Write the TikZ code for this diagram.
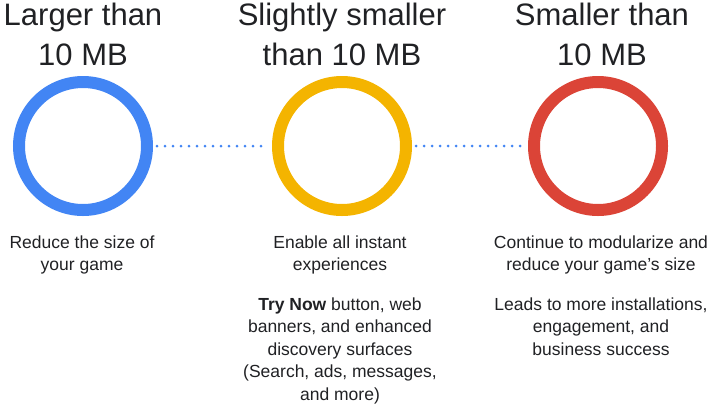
\documentclass[tikz,border=0pt]{standalone}
\usepackage{fontspec}
\setmainfont{Liberation Sans}
\definecolor{gblue}{HTML}{4285F4}
\definecolor{gyellow}{HTML}{F4B400}
\definecolor{gred}{HTML}{DB4437}
\definecolor{gtext}{HTML}{202124}
\begin{document}
\begin{tikzpicture}[x=1pt,y=-1pt,
  ring/.style={circle,minimum size=128pt,line width=12pt,draw=#1},
  title/.style={align=center,font=\fontsize{31}{40}\selectfont,text=gtext,anchor=north},
  body/.style={align=center,font=\fontsize{17.5}{22.5}\selectfont,text=gtext,anchor=north},
  dots/.style={gblue,line width=3pt,line cap=round,dash pattern=on 0pt off 8pt}]
\useasboundingbox (0,0) rectangle (719,408);
\node[ring=gblue] (c1) at (83,146) {};
\node[ring=gyellow] (c2) at (342,146) {};
\node[ring=gred] (c3) at (598,146) {};
\draw[dots] ([xshift=4pt]c1.east) -- ([xshift=-4pt]c2.west);
\draw[dots] ([xshift=4pt]c2.east) -- ([xshift=-4pt]c3.west);
\node[title] (t1) at (83,-1) {Larger than\\10 MB};
\node[title] (t2) at (342,-1) {Slightly smaller\\than 10 MB};
\node[title] (t3) at (602,-1) {Smaller than\\10 MB};
\node[body] (b1) at (82,232) {Reduce the size of\\your game};
\node[body] (b2) at (340,232) {Enable all instant\\experiences\\[17pt]\textbf{Try Now} button, web\\banners, and enhanced\\discovery surfaces\\(Search, ads, messages,\\and more)};
\node[body] (b3) at (601,232) {Continue to modularize and\\reduce your game’s size\\[17pt]Leads to more installations,\\engagement, and\\business success};
\end{tikzpicture}
\end{document}
